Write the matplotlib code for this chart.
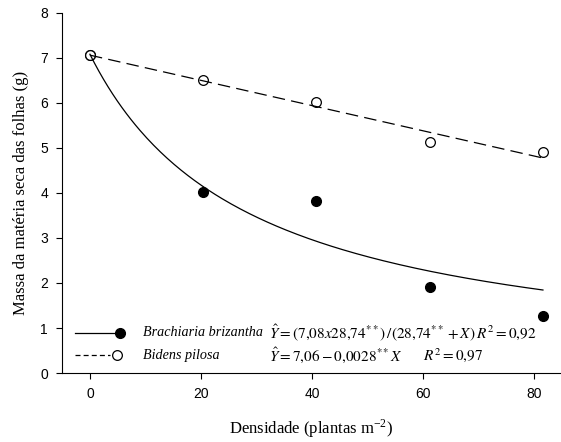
import numpy as np
import matplotlib
matplotlib.use("Agg")
import matplotlib.pyplot as plt

plt.rcParams["mathtext.fontset"] = "stix"
plt.rcParams["font.family"] = "Liberation Sans"

# ── data ──────────────────────────────────────────────────────────────────────
densidade = [0, 20.4, 40.8, 61.2, 81.6]
brachiaria = [7.06, 4.02, 3.82, 1.91, 1.27]
bidens = [7.07, 6.51, 6.02, 5.13, 4.91]

# fitted models
brach_a, brach_b = 7.08, 28.74          # Y = a*b / (b + X)
bidens_a, bidens_b = 7.06, 0.028        # Y = a - b*X

x_fit = np.linspace(0, max(densidade), 200)
y_brach = brach_a * brach_b / (brach_b + x_fit)
y_bidens = bidens_a - bidens_b * x_fit

# ── plot ──────────────────────────────────────────────────────────────────────
fig = plt.figure(figsize=(5.61, 4.42), dpi=100)
ax = fig.add_axes([0.1105, 0.156, 0.888, 0.815])

ax.plot(densidade, brachiaria, "o", color="black", ms=7, zorder=2)
ax.plot(densidade, bidens, "o", mfc="white", mec="black", mew=0.9, ms=7, zorder=2)
ax.plot(x_fit, y_brach, "-", color="black", lw=0.9, zorder=3)
ax.plot(x_fit, y_bidens, "--", color="black", lw=0.9, dashes=(10, 5), zorder=3)

ax.set_xlim(-5.03, 84.7)
ax.set_ylim(0, 8)
ax.set_xticks([0, 20, 40, 60, 80])
ax.set_yticks(range(9))
ax.spines[["top", "right"]].set_visible(False)
ax.tick_params(direction="out", length=4, width=0.8, labelsize=10, pad=6)

ax.set_xlabel(r"Densidade (plantas m$^{\mathregular{-2}}$)",
              family="Liberation Serif", fontsize=12, labelpad=12)
ax.set_ylabel("Massa da matéria seca das folhas (g)",
              family="Liberation Serif", fontsize=12, labelpad=8)

# ── legend (manual) ───────────────────────────────────────────────────────────
ax.plot([-2.7, 4.3], [0.89, 0.89], "-", color="black", lw=0.9)
ax.plot([5.5], [0.89], "o", color="black", ms=7)
ax.plot([-2.7, 3.6], [0.40, 0.40], "--", color="black", lw=0.9, dashes=(4, 2.5))
ax.plot([4.8], [0.40], "o", mfc="white", mec="black", mew=0.9, ms=7)

tkw = dict(va="center", ha="left", family="Liberation Serif")
ax.text(9.5, 0.89, "Brachiaria brizantha", style="italic", fontsize=10.2, **tkw)
ax.text(9.5, 0.40, "Bidens pilosa", style="italic", fontsize=10.2, **tkw)
ax.text(32.3, 0.89,
        r"$\hat{Y}=(7{,}08x28{,}74^{**})\,/(28{,}74^{**}+X)\,R^2=0{,}92$",
        fontsize=11, **tkw)
ax.text(32.3, 0.40, r"$\hat{Y}=7{,}06-0{,}0028^{**}X$", fontsize=11, **tkw)
ax.text(60.0, 0.40, r"$R^2=0{,}97$", fontsize=11, **tkw)

fig.savefig("out.png", dpi=100)
